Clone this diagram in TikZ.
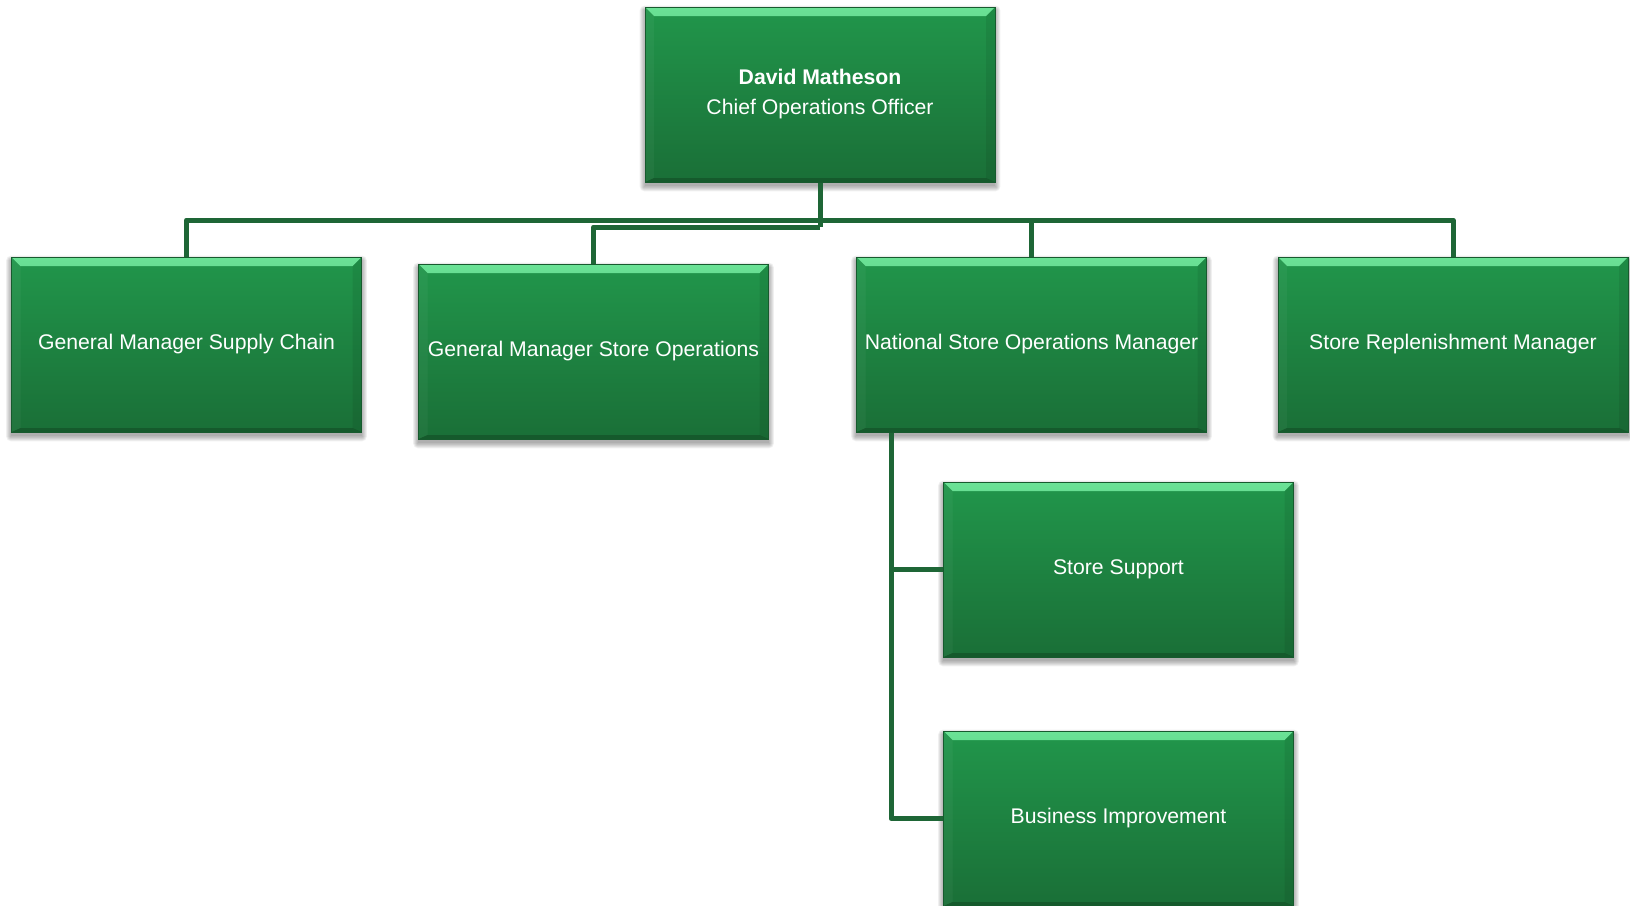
\documentclass[tikz,border=0pt]{standalone}
\usepackage{fontspec}
\setmainfont{Liberation Sans}
\usetikzlibrary{backgrounds}
\definecolor{boxtop}{HTML}{21964B}
\definecolor{boxbot}{HTML}{1A6F37}
\definecolor{boxedge}{HTML}{175A2E}
\definecolor{linkc}{HTML}{1E6636}
\definecolor{bevlight}{HTML}{6BE296}
\definecolor{bevmid}{HTML}{27A053}
\definecolor{bevdark}{HTML}{124C25}
\tikzset{
  orgbox/.style={draw=boxedge, line width=0.8pt, minimum width=350pt, minimum height=175pt,
    inner sep=0pt, text=white, align=center, font=\fontsize{21.2}{30}\selectfont,
    top color=boxtop, bottom color=boxbot,
    path picture={
      \shade[top color=bevlight, bottom color=bevmid]
        (path picture bounding box.north west) -- (path picture bounding box.north east)
        -- ([xshift=-9pt,yshift=-9pt]path picture bounding box.north east)
        -- ([xshift=9pt,yshift=-9pt]path picture bounding box.north west) -- cycle;
      \fill[bevdark, opacity=0.6]
        (path picture bounding box.south west) -- (path picture bounding box.south east)
        -- ([xshift=-9pt,yshift=4pt]path picture bounding box.south east)
        -- ([xshift=9pt,yshift=4pt]path picture bounding box.south west) -- cycle;
      \fill[white, opacity=0.04]
        (path picture bounding box.north west) -- ([xshift=9pt,yshift=-9pt]path picture bounding box.north west)
        -- ([xshift=9pt,yshift=4pt]path picture bounding box.south west) -- (path picture bounding box.south west) -- cycle;
      \fill[black, opacity=0.07]
        (path picture bounding box.north east) -- ([xshift=-9pt,yshift=-9pt]path picture bounding box.north east)
        -- ([xshift=-9pt,yshift=4pt]path picture bounding box.south east) -- (path picture bounding box.south east) -- cycle;
    }},
  link/.style={draw=linkc, line width=5pt, line join=round},
  shadowpiece/.style={fill=black, opacity=0.06}
}
\newcommand{\boxshadow}[1]{%
  \foreach \k in {0,...,5}{%
    \fill[shadowpiece, rounded corners=\k pt]
      ([xshift=-\k pt, yshift=\k pt - 4pt]#1.north west) rectangle ([xshift=\k pt, yshift=-\k pt - 4pt]#1.south east);
  }}
\begin{document}
\begin{tikzpicture}[x=1pt,y=-1pt]
\useasboundingbox (0,0) rectangle (1630,905);
\node[orgbox] (ceo) at (820,94.5) {\textbf{David Matheson}\\Chief Operations Officer};
\node[orgbox] (gmsc) at (186.5,344.5) {General Manager Supply Chain};
\node[orgbox] (gmso) at (593.5,351.5) {General Manager Store Operations};
\node[orgbox] (nsom) at (1031.5,344.5) {National Store Operations Manager};
\node[orgbox] (srm) at (1453,344.5) {Store Replenishment Manager};
\node[orgbox] (ss) at (1118.5,569.5) {Store Support};
\node[orgbox] (bi) at (1118.5,818.5) {Business Improvement};
\coordinate (bus) at (820,220);
\coordinate (bus2) at (820,227);
\coordinate (tap) at ([xshift=35pt]nsom.south west);
\begin{scope}[on background layer]
\fill[white] (0,0) rectangle (1630,905);
\foreach \n in {ceo,gmsc,gmso,nsom,srm,ss,bi}{\boxshadow{\n}}
\draw[link] (ceo.south) -- (bus2);
\draw[link] (gmsc.north) |- (bus) -| (srm.north);
\draw[link] (nsom.north) -- (nsom.north |- bus);
\draw[link] (bus2) -| (gmso.north);
\draw[link] (tap) |- (ss.west);
\draw[link] (tap) |- (bi.west);
\end{scope}
\end{tikzpicture}
\end{document}
